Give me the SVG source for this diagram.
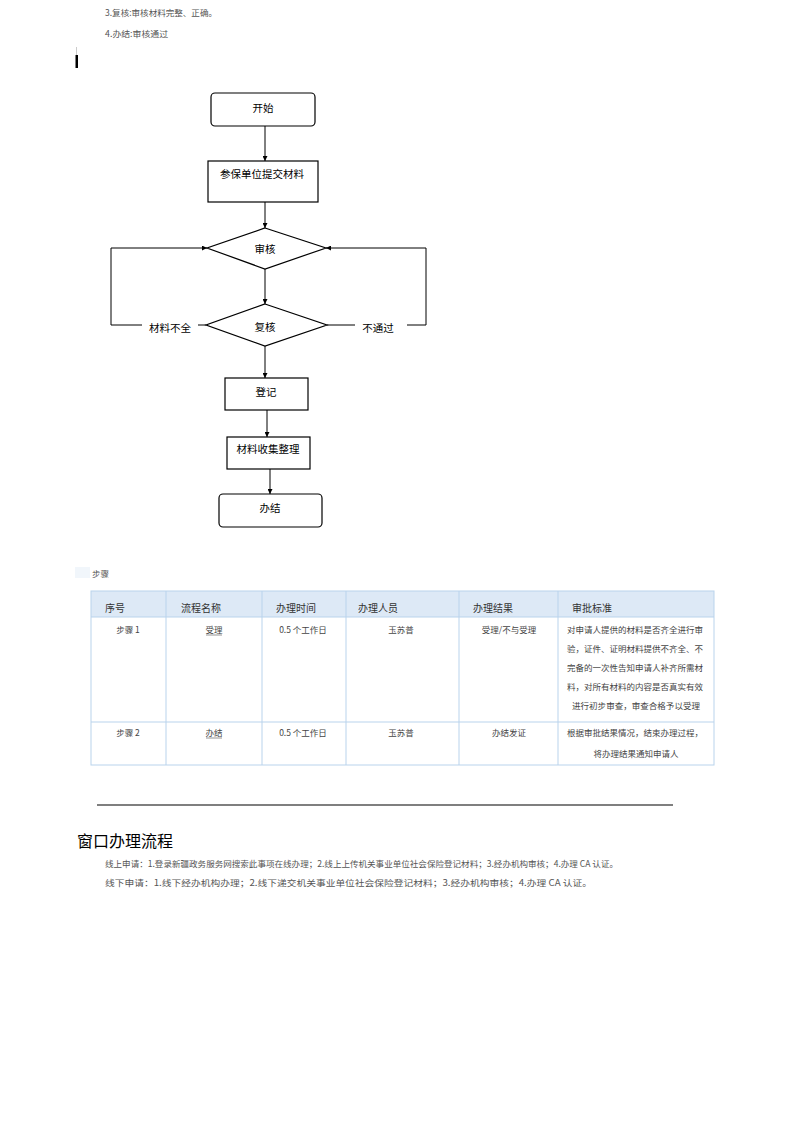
<svg xmlns="http://www.w3.org/2000/svg" width="793" height="1122" viewBox="0 0 793 1122">
<style>
.fc{font-family:"Noto Sans CJK SC","Liberation Sans",sans-serif;font-size:10.5px;fill:#000;text-anchor:middle;dominant-baseline:central}
.nd{fill:#fff;stroke:#000;stroke-width:1.2}
.cn{fill:none;stroke:#000;stroke-width:1}
.doc{font-family:"Noto Sans CJK SC","Liberation Serif",serif;font-size:8.5px;fill:#555;dominant-baseline:central}
.th{font-family:"Noto Sans CJK SC","Liberation Serif",serif;font-size:10px;fill:#333;dominant-baseline:central}
.td{font-family:"Noto Sans CJK SC","Liberation Serif",serif;font-size:8.5px;fill:#444;dominant-baseline:central;text-anchor:middle}
.tl{stroke:#b9d3ec;stroke-width:1;fill:none}
</style>
<defs>
<marker id="ah" viewBox="0 0 10 10" refX="10" refY="5" markerWidth="5" markerHeight="5" orient="auto" markerUnits="userSpaceOnUse">
<path d="M0,0 L10,5 L0,10 z" fill="#000"/>
</marker>
</defs>
<rect width="793" height="1122" fill="#fff"/>

<!-- top text -->
<text class="doc" x="105" y="12" textLength="112" lengthAdjust="spacingAndGlyphs">3.复核:审核材料完整、正确。</text>
<text class="doc" x="105" y="33" textLength="63" lengthAdjust="spacingAndGlyphs">4.办结:审核通过</text>
<line x1="76.5" y1="47" x2="76.5" y2="55" stroke="#ccc" stroke-width="1"/>
<rect x="75.5" y="55" width="2.5" height="13" fill="#000"/>

<!-- flowchart nodes -->
<g id="start"><rect class="nd" x="211" y="93" width="104" height="33" rx="4"/><text class="fc" x="263" y="107">开始</text></g>
<g id="submit"><rect class="nd" x="208" y="161" width="110" height="41"/><text class="fc" x="262" y="173">参保单位提交材料</text></g>
<g id="review"><polygon class="nd" points="265,228 326,248 265,269 207,248"/><text class="fc" x="265" y="248">审核</text></g>
<g id="recheck"><polygon class="nd" points="265,304 327,325 265,346 206,325"/><text class="fc" x="265" y="326">复核</text></g>
<g id="register"><rect class="nd" x="225" y="378" width="83" height="32"/><text class="fc" x="266" y="391">登记</text></g>
<g id="collect"><rect class="nd" x="227" y="437" width="83" height="32"/><text class="fc" x="268" y="448">材料收集整理</text></g>
<g id="finish"><rect class="nd" x="219" y="494" width="103" height="33" rx="4"/><text class="fc" x="270" y="507">办结</text></g>

<!-- connectors -->
<g id="connectors">
<path class="cn" d="M265,126 V161" marker-end="url(#ah)"/>
<path class="cn" d="M265,202 V228" marker-end="url(#ah)"/>
<path class="cn" d="M265,269 V304" marker-end="url(#ah)"/>
<path class="cn" d="M265,346 V378" marker-end="url(#ah)"/>
<path class="cn" d="M267,410 V437" marker-end="url(#ah)"/>
<path class="cn" d="M270,469 V494" marker-end="url(#ah)"/>
<path class="cn" d="M206,325 H198"/>
<path class="cn" d="M142,325 H111 V248 H207" marker-end="url(#ah)"/>
<text class="fc" x="170" y="327">材料不全</text>
<path class="cn" d="M327,325 H355"/>
<path class="cn" d="M407,325 H426 V248 H326" marker-end="url(#ah)"/>
<text class="fc" x="378" y="327">不通过</text>
</g>

<!-- steps label -->
<rect x="75" y="567" width="15" height="11" fill="#f1f6fb"/>
<text class="doc" x="92" y="573">步骤</text>

<!-- table -->
<g id="table">
<rect x="91" y="591" width="623" height="26" fill="#dde9f6"/>
<rect class="tl" x="91" y="591" width="623" height="174"/>
<line class="tl" x1="91" y1="617" x2="714" y2="617"/>
<line class="tl" x1="91" y1="722" x2="714" y2="722"/>
<line class="tl" x1="166" y1="591" x2="166" y2="765"/>
<line class="tl" x1="262" y1="591" x2="262" y2="765"/>
<line class="tl" x1="346" y1="591" x2="346" y2="765"/>
<line class="tl" x1="459" y1="591" x2="459" y2="765"/>
<line class="tl" x1="558" y1="591" x2="558" y2="765"/>
<text class="th" x="105" y="607">序号</text>
<text class="th" x="181" y="607">流程名称</text>
<text class="th" x="276" y="607">办理时间</text>
<text class="th" x="358" y="607">办理人员</text>
<text class="th" x="473" y="607">办理结果</text>
<text class="th" x="572" y="607">审批标准</text>

<text class="td" x="128" y="629">步骤 1</text>
<text class="td" x="214" y="629">受理</text>
<line x1="206" y1="635" x2="222" y2="635" stroke="#666" stroke-width="0.7"/>
<text class="td" x="303" y="629">0.5 个工作日</text>
<text class="td" x="401" y="629">玉苏普</text>
<text class="td" x="509" y="629">受理/不与受理</text>
<text class="td" x="635" y="629" textLength="136" lengthAdjust="spacingAndGlyphs">对申请人提供的材料是否齐全进行审</text>
<text class="td" x="635" y="648" textLength="136" lengthAdjust="spacingAndGlyphs">验，证件、证明材料提供不齐全、不</text>
<text class="td" x="635" y="667" textLength="136" lengthAdjust="spacingAndGlyphs">完备的一次性告知申请人补齐所需材</text>
<text class="td" x="635" y="686" textLength="136" lengthAdjust="spacingAndGlyphs">料，对所有材料的内容是否真实有效</text>
<text class="td" x="636" y="705" textLength="128" lengthAdjust="spacingAndGlyphs">进行初步审查，审查合格予以受理</text>

<text class="td" x="128" y="732">步骤 2</text>
<text class="td" x="214" y="732">办结</text>
<line x1="206" y1="738" x2="222" y2="738" stroke="#666" stroke-width="0.7"/>
<text class="td" x="303" y="732">0.5 个工作日</text>
<text class="td" x="401" y="732">玉苏普</text>
<text class="td" x="509" y="732">办结发证</text>
<text class="td" x="635" y="732" textLength="136" lengthAdjust="spacingAndGlyphs">根据审批结果情况，结束办理过程，</text>
<text class="td" x="636" y="753" textLength="85" lengthAdjust="spacingAndGlyphs">将办理结果通知申请人</text>
</g>

<!-- rule and heading -->
<line x1="97" y1="805" x2="673" y2="805" stroke="#555" stroke-width="1.3"/>
<text x="77" y="847" font-family="Noto Sans CJK SC, Liberation Sans, sans-serif" font-size="16" fill="#000">窗口办理流程</text>
<text class="doc" x="105" y="863" textLength="513" lengthAdjust="spacingAndGlyphs">线上申请：1.登录新疆政务服务网搜索此事项在线办理；2.线上上传机关事业单位社会保险登记材料；3.经办机构审核；4.办理 CA 认证。</text>
<text class="doc" x="105" y="882" textLength="487" lengthAdjust="spacingAndGlyphs">线下申请：1.线下经办机构办理；2.线下递交机关事业单位社会保险登记材料；3.经办机构审核；4.办理 CA 认证。</text>
</svg>
